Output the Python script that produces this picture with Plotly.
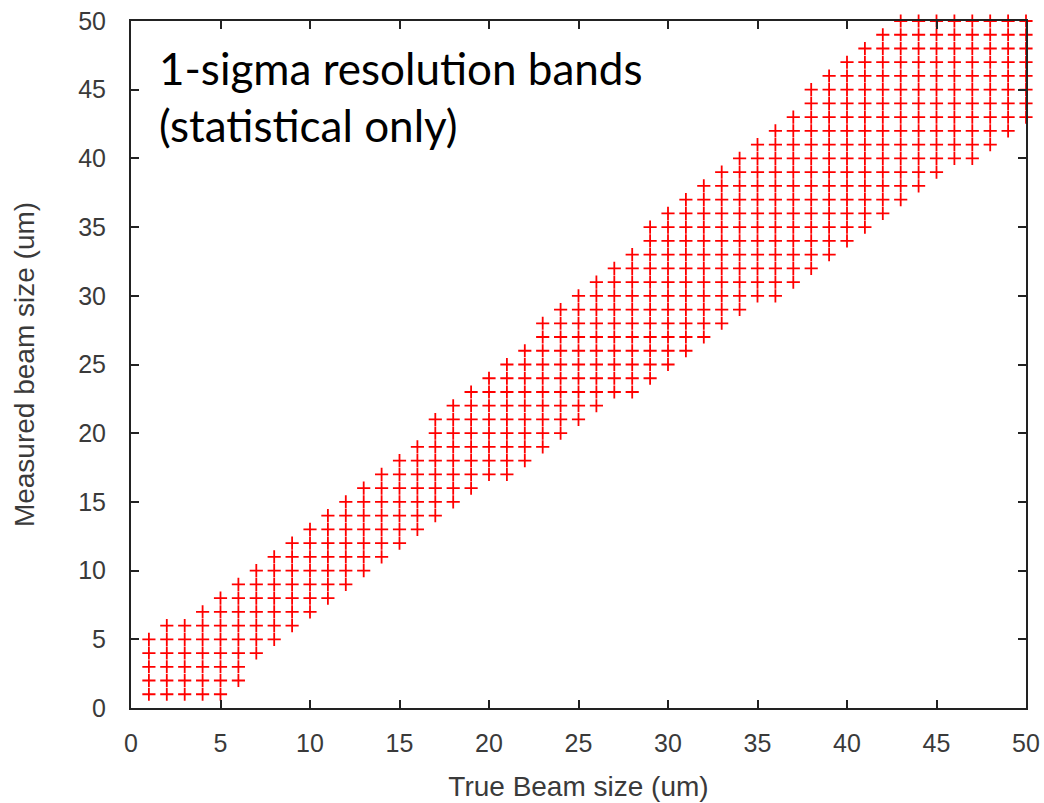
import plotly.graph_objects as go

# Resolution band: for each true beam size, the lowest and highest
# measured size (um) inside the 1-sigma band
true_size = list(range(1, 51))
band_low = [1, 1, 1, 1, 1, 2, 4, 5, 6, 7,
            8, 9, 10, 11, 12, 13, 14, 15, 16, 17,
            17, 18, 19, 20, 21, 22, 23, 23, 24, 25,
            26, 27, 28, 29, 30, 30, 31, 32, 33, 34,
            35, 36, 37, 38, 39, 40, 40, 41, 42, 43]
band_high = [5, 6, 6, 7, 8, 9, 10, 11, 12, 13,
             14, 15, 16, 17, 18, 19, 21, 22, 23, 24,
             25, 26, 28, 29, 30, 31, 32, 33, 35, 36,
             37, 38, 39, 40, 41, 42, 43, 45, 46, 47,
             48, 49, 50, 50, 50, 50, 50, 50, 50, 50]
tick_vals = [0, 5, 10, 15, 20, 25, 30, 35, 40, 45, 50]

# Every integer measured size within the band gets one point
xs, ys = [], []
for t, lo, hi in zip(true_size, band_low, band_high):
    for m in range(lo, hi + 1):
        xs.append(t)
        ys.append(m)

fig = go.Figure()
fig.add_trace(go.Scatter(
    x=xs, y=ys, mode="markers",
    marker=dict(symbol="cross-thin", size=9.4,
                line=dict(color="#ff0000", width=1.8)),
    cliponaxis=False, showlegend=False, hoverinfo="x+y",
))

tick_font = dict(family="Liberation Sans, Arial, sans-serif", size=25, color="#3a3a3a")
title_font = dict(family="Liberation Sans, Arial, sans-serif", size=28, color="#3a3a3a")
common = dict(
    tickvals=tick_vals, ticks="inside", ticklen=8, tickwidth=1.5, tickcolor="#222222",
    showline=True, linecolor="#222222", linewidth=2, mirror="ticks",
    showgrid=False, zeroline=False, tickfont=tick_font, fixedrange=True,
    automargin=False,
)

fig.update_layout(
    width=1044, height=803,
    margin=dict(l=131, r=18, t=21, b=95),
    paper_bgcolor="white", plot_bgcolor="white",
    xaxis=dict(range=[0, 50], ticklabelstandoff=12,
               title=dict(text="True Beam size (um)", font=title_font, standoff=20), **common),
    yaxis=dict(range=[0, 50], ticklabelstandoff=18,
               title=dict(text="Measured beam size (um)", font=title_font, standoff=35), **common),
    annotations=[dict(
        text="1-sigma resolution bands<br>(statistical only)",
        xref="paper", yref="paper", x=0.029, y=0.972,
        xanchor="left", yanchor="top", align="left", showarrow=False,
        font=dict(family="Lato, sans-serif", size=44, color="#000000"),
    )],
)

fig.write_html("out.html")
